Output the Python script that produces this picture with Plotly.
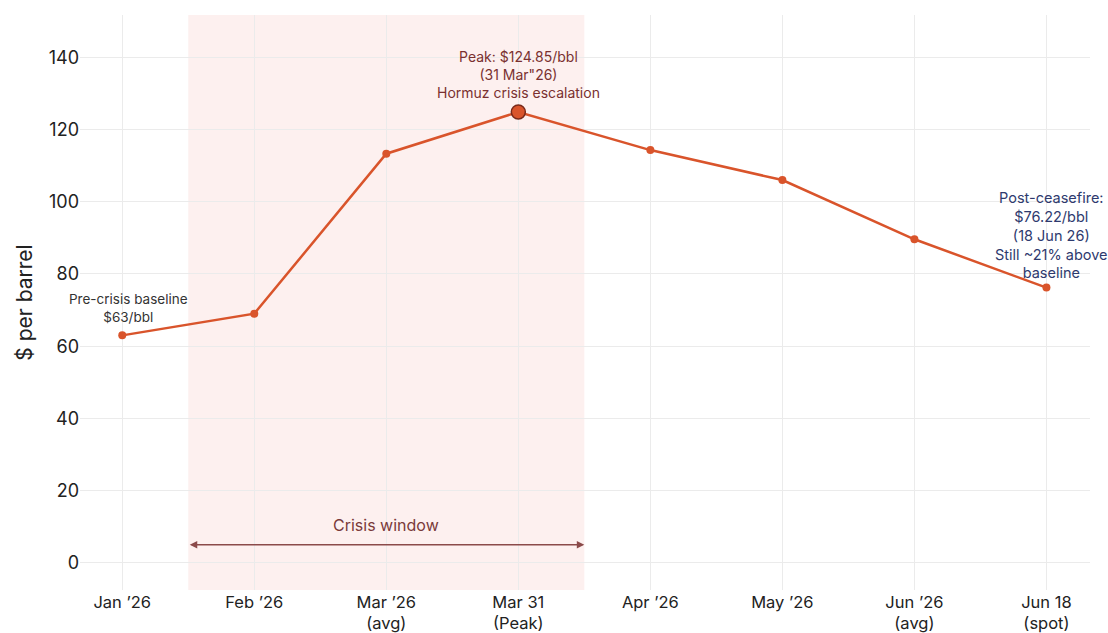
import plotly.graph_objects as go

categories = ["Jan \u201926", "Feb \u201926", "Mar \u201926<br>(avg)", "Mar 31<br>(Peak)",
              "Apr \u201926", "May \u201926", "Jun \u201926<br>(avg)", "Jun 18<br>(spot)"]
prices = [63, 69, 113.3, 124.85, 114.3, 106, 89.6, 76.22]
y_ticks = [0, 20, 40, 60, 80, 100, 120, 140]
crisis_start, crisis_end = 0.5, 3.5
peak_idx = 3

x = list(range(len(categories)))
line_color = "#D9542B"
font = "Inter, Roboto, sans-serif"

fig = go.Figure()
fig.add_shape(type="rect", xref="x", yref="paper", x0=crisis_start, x1=crisis_end,
              y0=0, y1=1, fillcolor="rgba(240,110,100,0.10)", line_width=0, layer="below")
fig.add_trace(go.Scatter(x=x, y=prices, mode="lines+markers",
                         line=dict(color=line_color, width=2.5),
                         marker=dict(size=8, color=line_color), showlegend=False,
                         hoverinfo="skip"))
fig.add_trace(go.Scatter(x=[x[peak_idx]], y=[prices[peak_idx]], mode="markers",
                         marker=dict(size=14, color=line_color,
                                     line=dict(color="#7A2A1A", width=1.5)),
                         showlegend=False, hoverinfo="skip"))

# crisis window arrow
fig.add_annotation(x=crisis_end, y=5, ax=crisis_start, ay=5, xref="x", yref="y",
                   axref="x", ayref="y", showarrow=True, arrowhead=2, arrowside="end+start",
                   arrowsize=1, arrowwidth=1.5, arrowcolor="#8B4A4A", text="")
fig.add_annotation(x=(crisis_start + crisis_end) / 2, y=10.5, text="Crisis window",
                   showarrow=False, font=dict(size=16, color="#7A3A3A", family=font))

fig.add_annotation(x=x[0] + 0.05, y=70.6, text="Pre-crisis baseline<br>$63/bbl", showarrow=False,
                   font=dict(size=13.5, color="#333333", family=font))
fig.add_annotation(x=x[peak_idx], y=143, yanchor="top",
                   text="Peak: $124.85/bbl<br>(31 Mar\"26)<br>Hormuz crisis escalation",
                   showarrow=False, font=dict(size=14, color="#7A3030", family=font))
fig.add_annotation(x=x[-1] + 0.04, y=104, yanchor="top",
                   text="Post-ceasefire:<br>$76.22/bbl<br>(18 Jun 26)<br>Still ~21% above<br>baseline",
                   showarrow=False, font=dict(size=14.5, color="#2E3A6E", family=font))

fig.update_layout(
    width=1108, height=633,
    margin=dict(l=80, r=18, t=15, b=43),
    paper_bgcolor="white", plot_bgcolor="white",
    font=dict(family=font, color="#333333"),
    xaxis=dict(range=[-0.32, 7.33], tickvals=x, ticktext=categories,
               showgrid=True, gridcolor="#EBEBEB", zeroline=False, automargin=False,
               tickfont=dict(size=16.5, color="#222222"), ticks="", showline=False),
    yaxis=dict(range=[-7.5, 151.7], tickvals=y_ticks, showgrid=True,
               gridcolor="#EBEBEB", zeroline=False, automargin=False,
               tickfont=dict(size=18, color="#222222"), ticks="",
               title=dict(text="$ per barrel", font=dict(size=21, color="#222222"), standoff=10)),
)

fig.write_html("out.html")
